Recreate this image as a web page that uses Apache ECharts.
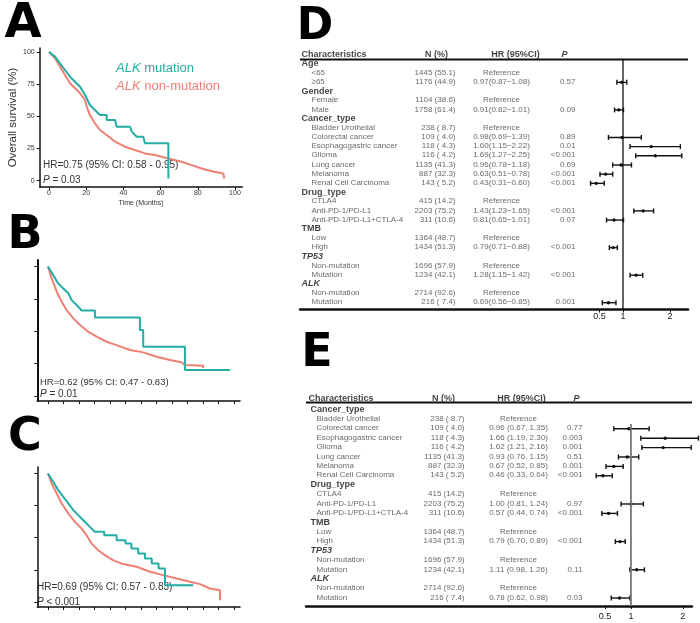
<!DOCTYPE html>
<html>
<head>
<meta charset="utf-8">
<script src="https://cdn.jsdelivr.net/npm/echarts@6/dist/echarts.min.js"></script>
<style>
  html, body { margin: 0; padding: 0; background: #fff; }
  #main { width: 700px; height: 623px; }
</style>
</head>
<body>
<div id="main"></div>
<script>
// ---- Kaplan-Meier curves: [months, survival %] ----
const kmAMut = [[0,100],[3.2,96.3],[5.9,91.1],[8.6,85.9],[11.3,80.7],[14,76.8],[16.7,72.9],[19.4,66.5],[22,58.7],[24.7,54.8],[27.4,50.9],[31,50.9],[31,47],[35.5,47],[36.4,41.8],[43.6,41.8],[44.5,38],[47.2,34.1],[50.7,34.1],[51.6,28.9],[64.2,28.9],[64.2,1.7]]
const kmANon = [[0,100],[3.2,95],[5.9,88.6],[8.6,82.1],[11.3,75.6],[14,71.7],[16.7,67.8],[19.4,62.6],[20.3,57.5],[22,50.9],[24.7,44.5],[27.4,39.3],[31,35.4],[35.5,30.2],[40.9,26.3],[46.2,23.7],[51.6,21.1],[57,19.8],[64.2,17.2],[71.3,14.6],[76.7,12],[82.1,9.4],[87.5,7.3],[93.7,5.5],[94.3,1.6]]
const kmBMut = [[0,100],[2.7,93.3],[5.3,86.9],[7.9,83],[10.5,79.3],[12.2,74],[14.8,70.2],[17.4,66],[24.2,66],[24.2,60.5],[47.4,60.5],[47.4,50.8],[49.1,50.8],[49.1,38],[70.6,38],[70.6,20],[93.8,20]]
const kmBNon = [[0,100],[1.9,90.8],[4.5,80.5],[7.1,72.7],[9.6,66.3],[13.1,59.9],[16.5,54.7],[20.8,49.5],[25.1,45.7],[30.2,41.8],[35.4,39.2],[42.3,35.4],[49.1,33.6],[56,30.2],[62.9,27.7],[68.9,25.9],[70.6,23.8],[80,23.3],[80,21.5]]
const kmCMut = [[0,100],[2.7,93.5],[5.3,87],[7.9,81.8],[10.5,76.6],[13.1,71.4],[15.6,67.5],[18.2,63.6],[21.6,58.4],[24.2,54.5],[27.6,54.5],[29,54.5],[29,51.9],[35.4,51.9],[35.4,48],[40,48],[40,45.4],[43,45.4],[43,41.6],[46.5,41.6],[46.5,37.7],[50,37.7],[50,33.8],[53.5,33.8],[53.5,29.9],[57,29.9],[57,26],[60.3,26],[60.3,13],[74.9,13]]
const kmCNon = [[0,100],[1.9,92.2],[4.5,84.4],[7.1,76.6],[10.5,68.8],[13.9,62.3],[17.4,57],[19.9,51.9],[22.5,45.5],[25.9,40.2],[29.3,36.4],[33.5,32.5],[38.7,29.4],[45.7,27.3],[52.6,23.4],[59.4,20.8],[66.3,18.2],[73.2,15.6],[78.4,13.8],[83.5,10.4],[88.7,9],[88.7,1.3]]
const kmHrText = ['HR=0.75 (95% CI: 0.58 - 0.95)', 'HR=0.62 (95% CI: 0.47 - 0.83)', 'HR=0.69 (95% CI: 0.57 - 0.83)']
const kmPText = ['= 0.03', '= 0.01', '< 0.001']
const kmYTicks = [0, 25, 50, 75, 100]
const kmAXTicks = [0, 20, 40, 60, 80, 100]
const kmBCXTicks = [0, 8, 16, 24, 32, 40, 48, 56, 64, 72, 80, 88, 96]

// ---- forest plot D (univariate) ----
const dLabels = ['Age','<65','≥65','Gender','Female','Male','Cancer_type','Bladder Urothelial','Colorectal cancer','Esophagogastric cancer','Glioma','Lung cancer','Melanoma','Renal Cell Carcinoma','Drug_type','CTLA4','Anti-PD-1/PD-L1','Anti-PD-1/PD-L1+CTLA-4','TMB','Low','High','TP53','Non-mutation','Mutation','ALK','Non-mutation','Mutation']
const dKind = ['h','i','i','h','i','i','h','i','i','i','i','i','i','i','h','i','i','i','h','i','i','g','i','i','g','i','i']
const dN = ['','1445 (55.1)','1176 (44.9)','','1104 (38.6)','1758 (61.4)','','238 ( 8.7)','109 ( 4.0)','118 ( 4.3)','116 ( 4.2)','1135 (41.3)','887 (32.3)','143 ( 5.2)','','415 (14.2)','2203 (75.2)','311 (10.6)','','1364 (48.7)','1434 (51.3)','','1696 (57.9)','1234 (42.1)','','2714 (92.6)','216 ( 7.4)']
const dHr = [null,1,0.97,null,1,0.91,null,1,0.98,1.60,1.69,0.96,0.63,0.43,null,1,1.43,0.81,null,1,0.79,null,1,1.28,null,1,0.69]
const dLo = [null,null,0.87,null,null,0.82,null,null,0.69,1.15,1.27,0.78,0.51,0.31,null,null,1.23,0.65,null,null,0.71,null,null,1.15,null,null,0.56]
const dHi = [null,null,1.08,null,null,1.01,null,null,1.39,2.22,2.25,1.18,0.78,0.60,null,null,1.65,1.01,null,null,0.88,null,null,1.42,null,null,0.85]
const dP = ['','','0.57','','','0.09','','','0.89','0.01','<0.001','0.69','<0.001','<0.001','','','<0.001','0.07','','','<0.001','','','<0.001','','','0.001']

// ---- forest plot E (multivariate) ----
const eLabels = ['Cancer_type','Bladder Urothelial','Colorectal cancer','Esophagogastric cancer','Glioma','Lung cancer','Melanoma','Renal Cell Carcinoma','Drug_type','CTLA4','Anti-PD-1/PD-L1','Anti-PD-1/PD-L1+CTLA-4','TMB','Low','High','TP53','Non-mutation','Mutation','ALK','Non-mutation','Mutation']
const eKind = ['h','i','i','i','i','i','i','i','h','i','i','i','h','i','i','g','i','i','g','i','i']
const eN = ['','238 ( 8.7)','109 ( 4.0)','118 ( 4.3)','116 ( 4.2)','1135 (41.3)','887 (32.3)','143 ( 5.2)','','415 (14.2)','2203 (75.2)','311 (10.6)','','1364 (48.7)','1434 (51.3)','','1696 (57.9)','1234 (42.1)','','2714 (92.6)','216 ( 7.4)']
const eHr = [null,1,0.96,1.66,1.62,0.93,0.67,0.46,null,1,1.00,0.57,null,1,0.79,null,1,1.11,null,1,0.78]
const eLo = [null,null,0.67,1.19,1.21,0.76,0.52,0.33,null,null,0.81,0.44,null,null,0.70,null,null,0.98,null,null,0.62]
const eHi = [null,null,1.35,2.30,2.16,1.15,0.85,0.64,null,null,1.24,0.74,null,null,0.89,null,null,1.26,null,null,0.98]
const eP = ['','','0.77','0.003','0.001','0.51','0.001','<0.001','','','0.97','<0.001','','','<0.001','','','0.11','','','0.03']
const forestTicks = [0.5, 1, 2]

const TEAL = '#22ADA6'
const RED = '#EF8073'
const FONT = '"Liberation Sans", Arial, sans-serif'

const chart = echarts.init(document.getElementById('main'))

// KM curve
function kmLine(name, data, color, idx) {
  return {
    type: 'line', name: name, data: data, xAxisIndex: idx, yAxisIndex: idx,
    symbol: 'none', silent: true,
    lineStyle: { color: color, width: 2 }, itemStyle: { color: color }
  }
}

function kmX(idx, min, max, ticks, withLabels) {
  return {
    gridIndex: idx, type: 'value', min: min, max: max,
    axisLine: { show: true, onZero: false, lineStyle: { color: '#111', width: 1.5 } },
    axisTick: { show: true, customValues: ticks, length: 3, lineStyle: { color: '#111' } },
    axisLabel: { show: withLabels, customValues: ticks, fontSize: 7, color: '#333', margin: 3 },
    splitLine: { show: false },
    name: withLabels ? 'Time (Months)' : '', nameLocation: 'middle', nameGap: 13,
    nameTextStyle: { fontSize: 7, color: '#333' }
  }
}

function kmY(idx, min, max, withLabels, width) {
  return {
    gridIndex: idx, type: 'value', min: min, max: max,
    axisLine: { show: true, onZero: false, lineStyle: { color: '#111', width: width } },
    axisTick: { show: true, customValues: kmYTicks, length: 3, lineStyle: { color: '#111' } },
    axisLabel: { show: withLabels, customValues: kmYTicks, fontSize: 7, color: '#333', margin: 5 },
    splitLine: { show: false },
    name: withLabels ? 'Overall survival (%)' : '', nameLocation: 'middle', nameGap: 18,
    nameTextStyle: { fontSize: 11.5, color: '#333' }
  }
}

const rowStyle = {
  h: { fontWeight: 'bold', fontStyle: 'normal', color: '#111', fontSize: 9 },
  g: { fontWeight: 'bold', fontStyle: 'italic', color: '#111', fontSize: 9 },
  i: { fontWeight: 'normal', fontStyle: 'normal', color: '#444', fontSize: 8 }
}

// one text column of a table, placed through the table grid's axes
function textCol(idx, texts, xFn, align, kinds) {
  const data = []
  texts.forEach(function (t, i) {
    if (!t) return
    const st = kinds ? rowStyle[kinds[i]] : rowStyle.i
    data.push({ value: [xFn(i), i], name: t, label: st })
  })
  return {
    type: 'scatter', xAxisIndex: idx, yAxisIndex: idx, symbolSize: 1, silent: true,
    itemStyle: { color: 'rgba(0,0,0,0)' },
    label: { show: true, position: [0, 0], align: align, verticalAlign: 'middle', formatter: function (p) { return p.name } },
    data: data
  }
}

function headerCol(idx, y, x, text, align, italic) {
  return {
    type: 'scatter', xAxisIndex: idx, yAxisIndex: idx, symbolSize: 1, silent: true,
    itemStyle: { color: 'rgba(0,0,0,0)' },
    label: {
      show: true, position: [0, 0], align: align, verticalAlign: 'middle',
      fontSize: 9, fontWeight: 'bold', fontStyle: italic ? 'italic' : 'normal', color: '#111',
      formatter: function (p) { return p.name }
    },
    data: [{ value: [x, y], name: text }]
  }
}

function hrText(hr, lo, hi, fmt) {
  if (hr == null) return ''
  if (lo == null) return 'Reference'
  return fmt(hr.toFixed(2), lo.toFixed(2), hi.toFixed(2))
}

function renderBar(params, api) {
  const y = api.value(0)
  const pLo = api.coord([api.value(2), y])
  const pHi = api.coord([api.value(3), y])
  const pHr = api.coord([api.value(1), y])
  const c = 2.5
  const style = { stroke: '#111', lineWidth: 1.4 }
  return {
    type: 'group',
    children: [
      { type: 'line', shape: { x1: pLo[0], y1: pLo[1], x2: pHi[0], y2: pHi[1] }, style: style },
      { type: 'line', shape: { x1: pLo[0], y1: pLo[1] - c, x2: pLo[0], y2: pLo[1] + c }, style: style },
      { type: 'line', shape: { x1: pHi[0], y1: pHi[1] - c, x2: pHi[0], y2: pHi[1] + c }, style: style },
      { type: 'circle', shape: { cx: pHr[0], cy: pHr[1], r: 1.7 }, style: { fill: '#111' } }
    ]
  }
}

function barData(hr, lo, hi) {
  const out = []
  hr.forEach(function (v, i) {
    if (lo[i] != null) out.push([i, v, lo[i], hi[i]])
  })
  return out
}

// forest panel: table grid (tIdx) + plot grid (fIdx)
function forestPanel(cfg) {
  const t = cfg.tIdx, f = cfg.fIdx
  const series = [
    textCol(t, cfg.labels, function (i) { return cfg.kinds[i] === 'i' ? cfg.colItem : cfg.colHead }, 'left', cfg.kinds),
    textCol(t, cfg.n, function () { return cfg.colN }, 'right'),
    textCol(t, cfg.hr.map(function (v, i) { return hrText(v, cfg.lo[i], cfg.hi[i], cfg.fmt) }), function () { return cfg.colHr }, 'center'),
    textCol(t, cfg.p, function () { return cfg.colP }, 'right'),
    headerCol(t, cfg.headY, cfg.colHead0, 'Characteristics', 'left'),
    headerCol(t, cfg.headY, cfg.colNHead, 'N (%)', 'center'),
    headerCol(t, cfg.headY, cfg.colHrHead, 'HR (95%CI)', 'center'),
    headerCol(t, cfg.headY, cfg.colPHead, 'P', 'center', true),
    {
      type: 'line', xAxisIndex: t, yAxisIndex: t, symbol: 'none', silent: true,
      lineStyle: { color: '#111', width: 2 },
      data: [[0, cfg.lineY], [cfg.width, cfg.lineY]]
    },
    {
      type: 'line', xAxisIndex: f, yAxisIndex: f, symbol: 'none', silent: true,
      lineStyle: { color: cfg.refColor, width: cfg.refWidth },
      data: [[1, cfg.refFrom], [1, cfg.yMax]]
    },
    {
      type: 'custom', xAxisIndex: f, yAxisIndex: f, silent: true,
      renderItem: renderBar, encode: { x: [1, 2, 3], y: 0 },
      data: barData(cfg.hr, cfg.lo, cfg.hi)
    }
  ]
  const grids = [
    { left: cfg.tLeft, top: cfg.top, width: cfg.width, height: cfg.height },
    { left: cfg.fLeft, top: cfg.top, width: cfg.fWidth, height: cfg.height }
  ]
  const xAxes = [
    {
      gridIndex: t, type: 'value', min: 0, max: cfg.width,
      axisLine: { show: true, onZero: false, lineStyle: { color: '#111', width: 2.5 } },
      axisTick: { show: false }, axisLabel: { show: false }, splitLine: { show: false }
    },
    {
      gridIndex: f, type: 'value', min: cfg.xMin, max: cfg.xMax,
      axisLine: { show: false, onZero: false },
      axisTick: { show: true, customValues: forestTicks, length: 3, lineStyle: { color: '#111' } },
      axisLabel: { customValues: forestTicks, fontSize: 9, color: '#222', margin: cfg.labMargin },
      splitLine: { show: false }
    }
  ]
  const yAxes = [t, f].map(function (g) {
    return { gridIndex: g, type: 'value', inverse: true, min: cfg.yMin, max: cfg.yMax, show: false }
  })
  return { series: series, grids: grids, xAxes: xAxes, yAxes: yAxes }
}

const panelD = forestPanel({
  tIdx: 3, fIdx: 4, labels: dLabels, kinds: dKind, n: dN, hr: dHr, lo: dLo, hi: dHi, p: dP,
  fmt: function (h, l, u) { return h + '(' + l + '−' + u + ')' },
  tLeft: 300, width: 388, top: 50.2, height: 259.4, yMin: -1.5, yMax: 26.75,
  headY: -1, lineY: -0.5, refFrom: -0.5,
  colHead0: 2, colHead: 2, colItem: 12, colN: 156, colHr: 202, colP: 276,
  colNHead: 137, colHrHead: 216, colPHead: 265,
  fLeft: 590.1, fWidth: 94, xMin: 0.3, xMax: 2.3, labMargin: 2,
  refColor: '#111', refWidth: 1.3
})

const panelE = forestPanel({
  tIdx: 5, fIdx: 6, labels: eLabels, kinds: eKind, n: eN, hr: eHr, lo: eLo, hi: eHi, p: eP,
  fmt: function (h, l, u) { return h + ' (' + l + ', ' + u + ')' },
  tLeft: 306, width: 386, top: 394, height: 212, yMin: -1.7, yMax: 20.85,
  headY: -1.2, lineY: -0.8, refFrom: 1.5,
  colHead0: 3, colHead: 5, colItem: 11, colN: 159, colHr: 213, colP: 277,
  colNHead: 138, colHrHead: 216, colPHead: 271,
  fLeft: 594.6, fWidth: 105.6, xMin: 0.3, xMax: 2.33, labMargin: 6,
  refColor: '#777', refWidth: 1.8
})

function letter(ch, x, y, size) {
  return {
    type: 'text', x: x, y: y, silent: true,
    style: { text: ch, fontSize: size, fontWeight: 'bold', fontFamily: '"DejaVu Sans", sans-serif', fill: '#000', align: 'center', verticalAlign: 'middle' }
  }
}

function note(text, x, y, size, rich) {
  return {
    type: 'text', x: x, y: y, silent: true,
    style: { text: text, fontSize: size, fontFamily: FONT, fill: '#333', verticalAlign: 'middle', rich: rich }
  }
}

const italicRich = { i: { fontStyle: 'italic', fontSize: 10, fill: '#333' } }
const kmNoteY = [[165, 180], [382, 394], [587, 602]]
const kmNoteX = [43, 40, 37]
const notes = []
kmHrText.forEach(function (t, k) {
  notes.push(note(t, kmNoteX[k], kmNoteY[k][0], k === 1 ? 9.5 : 10))
  notes.push(note('{i|P} ' + kmPText[k], kmNoteX[k], kmNoteY[k][1], 10, italicRich))
})

const option = {
  animation: false,
  textStyle: { fontFamily: FONT },
  grid: [
    { left: 39.7, top: 48, width: 202.7, height: 139 },
    { left: 37.3, top: 260, width: 202.7, height: 141 },
    { left: 37.3, top: 467, width: 202.7, height: 140 }
  ].concat(panelD.grids, panelE.grids),
  xAxis: [
    kmX(0, -5, 104, kmAXTicks, true),
    kmX(1, -5.5, 99, kmBCXTicks, false),
    kmX(2, -5.5, 99, kmBCXTicks, false)
  ].concat(panelD.xAxes, panelE.xAxes),
  yAxis: [
    kmY(0, -5, 103, true, 1.5),
    kmY(1, -4, 105, false, 2),
    kmY(2, -4, 105, false, 1.5)
  ].concat(panelD.yAxes, panelE.yAxes),
  legend: {
    left: 106, top: 57, orient: 'vertical', icon: 'none', itemWidth: 0, itemHeight: 0, itemGap: 5,
    selectedMode: false,
    formatter: function (name) { return '{i|ALK}' + name.slice(3) },
    textStyle: { fontSize: 13, rich: { i: { fontStyle: 'italic', fontSize: 13 } } },
    data: [
      { name: 'ALK mutation', textStyle: { color: TEAL } },
      { name: 'ALK non-mutation', textStyle: { color: RED } }
    ]
  },
  graphic: [
    letter('A', 23, 25, 48),
    letter('B', 25, 236, 46),
    letter('C', 25, 438, 46),
    letter('D', 315, 28, 44),
    letter('E', 317, 354, 46)
  ].concat(notes),
  series: [
    kmLine('ALK non-mutation', kmANon, RED, 0),
    kmLine('ALK mutation', kmAMut, TEAL, 0),
    kmLine('ALK non-mutation', kmBNon, RED, 1),
    kmLine('ALK mutation', kmBMut, TEAL, 1),
    kmLine('ALK non-mutation', kmCNon, RED, 2),
    kmLine('ALK mutation', kmCMut, TEAL, 2)
  ].concat(panelD.series, panelE.series)
}

chart.setOption(option)
</script>
</body>
</html>
